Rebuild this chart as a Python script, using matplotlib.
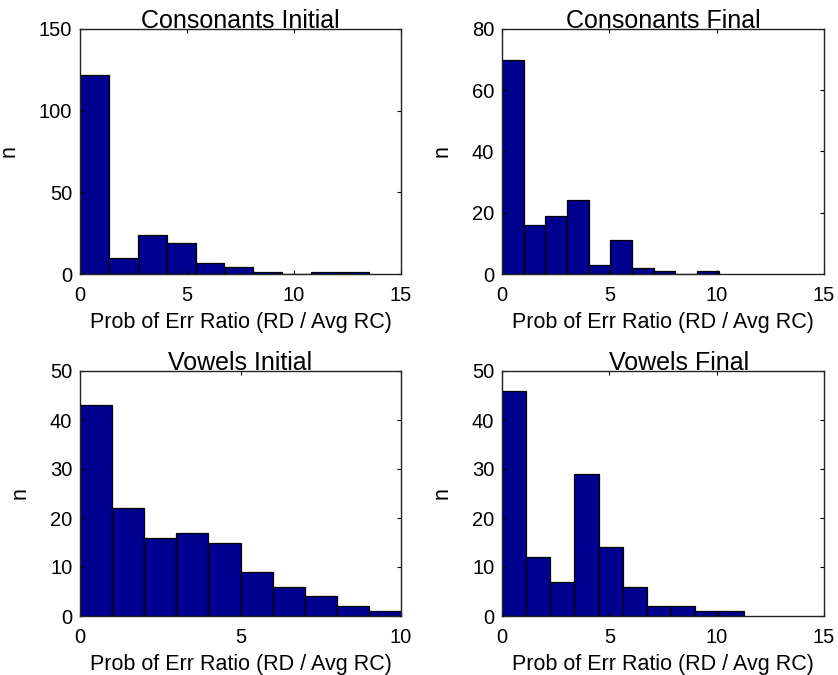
import numpy as np
import matplotlib
matplotlib.use("Agg")
import matplotlib.pyplot as plt

plt.rcParams['font.family'] = ['Liberation Sans', 'DejaVu Sans']

# histogram counts (10 bins each, MATLAB hist style)
titles = ["Consonants Initial", "Consonants Final", "Vowels Initial", "Vowels Final"]
ci_counts = [122, 10, 24, 19, 7, 4, 1, 0, 1, 1]
cf_counts = [70, 16, 19, 24, 3, 11, 2, 1, 0, 1]
vi_counts = [43, 22, 16, 17, 15, 9, 6, 4, 2, 1]
vf_counts = [46, 12, 7, 29, 14, 6, 2, 2, 1, 1]
# data range (min, max) of each histogram
ci_range = (0.0, 13.5)
cf_range = (0.0, 10.1)
vi_range = (0.0, 10.0)
vf_range = (0.0, 11.25)
# axis limits / ticks
xlims = [(0, 15), (0, 15), (0, 10), (0, 15)]
xticks = [[0, 5, 10, 15], [0, 5, 10, 15], [0, 5, 10], [0, 5, 10, 15]]
ylims = [(0, 150), (0, 80), (0, 50), (0, 50)]
yticks = [[0, 50, 100, 150], [0, 20, 40, 60, 80], [0, 10, 20, 30, 40, 50], [0, 10, 20, 30, 40, 50]]

xlabel = "Prob of Err Ratio (RD / Avg RC)"
ylabel = "n"

counts_all = [ci_counts, cf_counts, vi_counts, vf_counts]
ranges_all = [ci_range, cf_range, vi_range, vf_range]

W, H = 838, 675
fig = plt.figure(figsize=(W / 100, H / 100), dpi=100)
# axes boxes in pixels: left, top, right, bottom
boxes = [(80, 29, 401, 274), (502, 29, 824, 274),
         (80, 371, 401, 616), (502, 371, 824, 616)]
title_shift = [0, 0, 0, 16]  # px, titles are not quite centred in the original

for i in range(4):
    l, t, r, b = boxes[i]
    ax = fig.add_axes([l / W, 1 - b / H, (r - l) / W, (b - t) / H])
    lo, hi = ranges_all[i]
    edges = np.linspace(lo, hi, len(counts_all[i]) + 1)
    ax.bar(edges[:-1], counts_all[i], width=np.diff(edges), align='edge',
           color='#00008F', edgecolor='black', linewidth=0.9)
    ax.set_xlim(*xlims[i])
    ax.set_ylim(*ylims[i])
    ax.set_xticks(xticks[i])
    ax.set_yticks(yticks[i])
    ax.tick_params(direction='in', top=True, right=True, length=3,
                   labelsize=14.5, width=0.8)
    ax.tick_params(axis='x', pad=8.5)
    ax.tick_params(axis='y', pad=5.5)
    for s in ax.spines.values():
        s.set_linewidth(1.0)
        s.set_color('#222222')
    ax.set_title(titles[i], fontsize=18, pad=0.5,
                 x=0.5 + title_shift[i] / (r - l))
    ax.set_xlabel(xlabel, fontsize=15.5, labelpad=5)
    ax.set_ylabel(ylabel, fontsize=15.5, labelpad=14)

fig.savefig("out.png", dpi=100)
